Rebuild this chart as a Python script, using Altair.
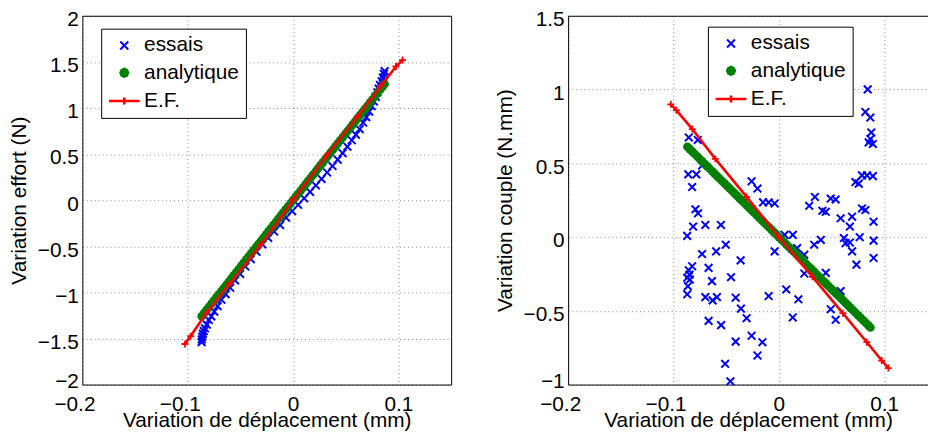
import altair as alt
import pandas as pd

FONT = "Liberation Sans"
BLUE = "#0000ff"
GREEN = "#008000"
RED = "#ff0000"

# ---- data -------------------------------------------------------------
series = ["essais", "analytique", "E.F."]
x_ticks = [-0.2, -0.1, 0, 0.1]
effort_ticks = [-2, -1.5, -1, -0.5, 0, 0.5, 1, 1.5, 2]
couple_ticks = [-1, -0.5, 0, 0.5, 1, 1.5]

# measured displacement samples, left panel (essais)
depl = [-0.0868, -0.0866, -0.0862, -0.0856, -0.0848, -0.0836, -0.0820, -0.0800, -0.0776, -0.0748,
        -0.0716, -0.0680, -0.0640, -0.0597, -0.0551, -0.0503, -0.0453, -0.0401, -0.0347, -0.0292,
        -0.0236, -0.0180, -0.0123, -0.0066, -0.0009, 0.0048, 0.0105, 0.0161, 0.0216, 0.0270,
        0.0323, 0.0374, 0.0423, 0.0470, 0.0515, 0.0557, 0.0596, 0.0632, 0.0665, 0.0695,
        0.0722, 0.0746, 0.0767, 0.0785, 0.0800, 0.0813, 0.0824, 0.0840, 0.0852, 0.0862, 0.0869]

effort_essais = [-1.54, -1.51, -1.48, -1.45, -1.42, -1.39, -1.35, -1.30, -1.26, -1.21,
                 -1.15, -1.08, -1.02, -0.95, -0.87, -0.80, -0.72, -0.64, -0.56, -0.48,
                 -0.41, -0.34, -0.27, -0.19, -0.12, -0.05, 0.02, 0.09, 0.16, 0.23,
                 0.30, 0.37, 0.44, 0.51, 0.58, 0.65, 0.71, 0.77, 0.84, 0.90,
                 0.96, 1.02, 1.07, 1.12, 1.17, 1.21, 1.25, 1.29, 1.33, 1.37, 1.40]

# displacement samples of the analytic model (both panels)
depl_ana = [-0.0868, -0.0845, -0.0821, -0.0798, -0.0774, -0.0751, -0.0727, -0.0704, -0.0680, -0.0657,
            -0.0633, -0.0610, -0.0586, -0.0563, -0.0539, -0.0516, -0.0492, -0.0469, -0.0445, -0.0422,
            -0.0398, -0.0375, -0.0351, -0.0328, -0.0304, -0.0281, -0.0257, -0.0234, -0.0210, -0.0187,
            -0.0163, -0.0140, -0.0116, -0.0093, -0.0069, -0.0046, -0.0022, 0.0001, 0.0025, 0.0048,
            0.0072, 0.0095, 0.0119, 0.0142, 0.0166, 0.0189, 0.0213, 0.0236, 0.0260, 0.0283,
            0.0307, 0.0330, 0.0354, 0.0377, 0.0401, 0.0424, 0.0448, 0.0471, 0.0495, 0.0518,
            0.0542, 0.0565, 0.0589, 0.0612, 0.0636, 0.0659, 0.0683, 0.0706, 0.0730, 0.0753,
            0.0777, 0.0800, 0.0824, 0.0847, 0.0869]

effort_ana = [-1.259, -1.225, -1.190, -1.157, -1.122, -1.089, -1.054, -1.021, -0.986, -0.953,
              -0.918, -0.885, -0.850, -0.816, -0.782, -0.748, -0.713, -0.680, -0.645, -0.612,
              -0.577, -0.544, -0.509, -0.476, -0.441, -0.407, -0.373, -0.339, -0.305, -0.271,
              -0.236, -0.203, -0.168, -0.135, -0.100, -0.067, -0.032, 0.001, 0.036, 0.070,
              0.104, 0.138, 0.173, 0.206, 0.241, 0.274, 0.309, 0.342, 0.377, 0.410,
              0.445, 0.479, 0.513, 0.547, 0.581, 0.615, 0.650, 0.683, 0.718, 0.751,
              0.786, 0.819, 0.854, 0.887, 0.922, 0.956, 0.990, 1.024, 1.059, 1.092,
              1.127, 1.160, 1.195, 1.228, 1.260]

couple_ana = [0.612, 0.596, 0.579, 0.563, 0.546, 0.529, 0.513, 0.496, 0.479, 0.463,
              0.446, 0.430, 0.413, 0.397, 0.380, 0.364, 0.347, 0.331, 0.314, 0.298,
              0.281, 0.264, 0.247, 0.231, 0.214, 0.198, 0.181, 0.165, 0.148, 0.132,
              0.115, 0.099, 0.082, 0.066, 0.049, 0.032, 0.016, -0.001, -0.018, -0.034,
              -0.051, -0.067, -0.084, -0.100, -0.117, -0.133, -0.150, -0.166, -0.183, -0.200,
              -0.216, -0.233, -0.250, -0.266, -0.283, -0.299, -0.316, -0.332, -0.349, -0.365,
              -0.382, -0.398, -0.415, -0.431, -0.448, -0.465, -0.482, -0.498, -0.515, -0.531,
              -0.548, -0.564, -0.581, -0.597, -0.613]

couple_essais_x = [-0.0855, -0.0770, -0.0860, -0.0783, -0.0823, -0.0792, -0.0767, -0.0729, -0.0814, -0.0870,
                   -0.0698, -0.0729, -0.0550, -0.0595, -0.0504, -0.0823, -0.0855, -0.0848, -0.0870, -0.0845,
                   -0.0864, -0.0870, -0.0667, -0.0635, -0.0698, -0.0629, -0.0588, -0.0667, -0.0548, -0.0454,
                   -0.0410, -0.0360, -0.0306, -0.0363, -0.0410, -0.0259, -0.0156, -0.0203, -0.0510, -0.0460,
                   -0.0259, -0.0203, -0.0150, -0.0097, -0.0040, -0.0040, -0.0097, 0.0054, 0.0132, 0.0070,
                   0.0132, 0.0185, 0.0173, 0.0241, 0.0241, 0.0288, 0.0342, 0.0413, 0.0445, 0.0335,
                   0.0398, 0.0445, 0.0492, 0.0539, 0.0586, 0.0492, 0.0539, 0.0586, 0.0617, 0.0633,
                   0.0674, 0.0674, 0.0695, 0.0695, 0.0736, 0.0767, 0.0727, 0.0758, 0.0789, 0.0836,
                   0.0892, 0.0789, 0.0821, 0.0843, 0.0821, 0.0868, 0.0877, 0.0868, 0.0892, 0.0852,
                   0.0899, 0.0899, 0.0899]
couple_essais_y = [0.675, 0.658, 0.425, 0.425, 0.339, 0.188, 0.161, 0.485, 0.071, 0.008,
                   0.082, -0.115, 0.082, -0.097, -0.052, -0.198, -0.225, -0.254, -0.276, -0.288,
                   -0.333, -0.388, -0.209, -0.299, -0.407, -0.429, -0.407, -0.568, -0.597, -0.272,
                   -0.411, -0.485, -0.550, -0.158, -0.709, -0.669, -0.713, -0.803, -0.859, -0.978,
                   0.378, 0.329, 0.235, 0.235, 0.228, -0.097, -0.400, 0.015, 0.015, -0.355,
                   -0.545, -0.422, -0.075, -0.120, -0.247, 0.212, 0.272, 0.178, 0.171, -0.052,
                   -0.019, -0.243, 0.261, 0.255, 0.127, -0.489, -0.561, -0.366, -0.007, -0.041,
                   0.071, -0.037, 0.138, -0.097, -0.187, -0.001, 0.373, 0.362, 0.418, 0.418,
                   0.413, 0.194, 0.183, 1.001, 0.848, 0.810, 0.709, 0.665, 0.631, 0.642,
                   0.104, -0.024, -0.142]

ef_x = [-0.1026, -0.0973, -0.0822, -0.0603, -0.0306, 0.0, 0.0319, 0.0607, 0.0835, 0.0976, 0.1039]
ef_effort = [-1.56, -1.476, -1.22, -0.906, -0.484, 0.0, 0.484, 0.90, 1.24, 1.45, 1.52]
ef_couple = [0.90, 0.86, 0.732, 0.53, 0.272, 0.0, -0.27, -0.516, -0.713, -0.837, -0.888]

# ---- styling ----------------------------------------------------------
XPATH = "M-1,-1L1,1M-1,1L1,-1"
PLUS = "M-1,0L1,0M0,-1L0,1"
LEG_X = "M-0.8,-0.8L0.8,0.8M-0.8,0.8L0.8,-0.8"
# small octagon drawn with a thick stroke -> solid round dot
LEG_DOT = "M0.5,0L0.35,0.35L0,0.5L-0.35,0.35L-0.5,0L-0.35,-0.35L0,-0.5L0.35,-0.35Z"
LEG_EF = "M-3.1,0L3.1,0M0,-0.7L0,0.7M-0.7,0L0.7,0"

XLABEL_SHIFT = {"condition": {"test": "datum.value < 0", "value": -8}, "value": 0}

PW = 372
PH = 372


def panel(ess_x, ess_y, ana_y, ef_y, xmax, width, ydom, yticks, ytitle, lx, ly, box_right):
    xs = alt.Scale(domain=[-0.2, xmax], nice=False, zero=False)
    ys = alt.Scale(domain=ydom, nice=False, zero=False)
    ess = pd.DataFrame({"x": ess_x, "y": ess_y})
    ana = pd.DataFrame({"x": depl_ana, "y": ana_y})
    ef = pd.DataFrame({"x": ef_x, "y": ef_y})
    leg = pd.DataFrame({"serie": series})

    ylabel_shift = {"condition": {"test": f"datum.value == {ydom[0]}", "value": -14}, "value": -7}

    main_x = alt.Axis(values=x_ticks, format="~g", title="Variation de déplacement (mm)",
                      grid=True, orient="bottom", labelOffset=XLABEL_SHIFT, labelFlush=False,
                      titleBaseline="alphabetic", titleY=42, labelPadding=9)
    main_y = alt.Axis(values=yticks, format="~g", title=ytitle, grid=True, orient="left",
                      titleBaseline="alphabetic", titleX=-57, labelPadding=4,
                      labelBaseline="top", labelOffset=ylabel_shift, labelFlush=False)
    frame_x = alt.Axis(orient="top", labels=False, ticks=False, grid=False, title=None)
    frame_y = (alt.Axis(orient="right", labels=False, ticks=False, grid=False, title=None)
               if box_right else None)

    frame = alt.Chart(ef).mark_point(opacity=0).encode(
        x=alt.X("x:Q", scale=xs, axis=frame_x), y=alt.Y("y:Q", scale=ys, axis=frame_y))
    l_ess = alt.Chart(ess).mark_point(shape=XPATH, filled=False, color=BLUE, strokeWidth=2,
                                      size=60, opacity=1).encode(
        x=alt.X("x:Q", scale=xs, axis=main_x), y=alt.Y("y:Q", scale=ys, axis=main_y))
    l_ana = alt.Chart(ana).mark_circle(color=GREEN, size=76, opacity=1).encode(
        x=alt.X("x:Q", scale=xs, axis=None), y=alt.Y("y:Q", scale=ys, axis=None))
    l_efl = alt.Chart(ef).mark_line(color=RED, strokeWidth=2.6).encode(
        x=alt.X("x:Q", scale=xs, axis=None), y=alt.Y("y:Q", scale=ys, axis=None))
    l_efp = alt.Chart(ef).mark_point(shape=PLUS, filled=False, color=RED, strokeWidth=1.8,
                                     size=49, opacity=1).encode(
        x=alt.X("x:Q", scale=xs, axis=None), y=alt.Y("y:Q", scale=ys, axis=None))

    lg = alt.Legend(title=None, orient="none", legendX=lx, legendY=ly)
    dom = series
    l_leg = alt.Chart(leg).mark_point(opacity=0, filled=False).encode(
        shape=alt.Shape("serie:N", scale=alt.Scale(domain=dom, range=[LEG_X, LEG_DOT, LEG_EF]), legend=lg),
        stroke=alt.Stroke("serie:N", scale=alt.Scale(domain=dom, range=[BLUE, GREEN, RED]), legend=lg),
        strokeWidth=alt.StrokeWidth("serie:N", scale=alt.Scale(type="ordinal", domain=dom,
                                                               range=[2, 5, 2.6]), legend=lg),
    )
    return alt.layer(frame, l_ess, l_ana, l_efl, l_efp, l_leg).resolve_axis(
        x="independent", y="independent").properties(width=width, height=PH)


left = panel(depl, effort_essais, effort_ana, ef_effort, 0.15, PW, [-2, 2], effort_ticks,
             "Variation effort (N)", 19, 13, True)
right = panel(couple_essais_x, couple_essais_y, couple_ana, ef_couple, -0.2 + 0.35 * 363 / 372,
              363, [-1, 1.5], couple_ticks, "Variation couple (N.mm)", 141, 11, False)

chart = alt.hconcat(left, right, spacing=44).resolve_scale(
    shape="independent", stroke="independent", strokeWidth="independent"
).resolve_legend(
    shape="independent", stroke="independent", strokeWidth="independent"
).properties(
    padding={"left": 1, "top": -1, "right": 0, "bottom": 0}
).configure_view(stroke=None).configure_axis(
    labelFont=FONT, labelFontSize=21, labelColor="black",
    titleFont=FONT, titleFontSize=21, titleFontWeight="normal", titleColor="black",
    domainColor="black", domainWidth=1, ticks=False,
    gridColor="#8c8c8c", gridDash=[1, 3], gridWidth=1, gridOpacity=1,
).configure_legend(
    labelFont=FONT, labelFontSize=21, labelColor="black",
    strokeColor="black", fillColor="white", padding=6.5, rowPadding=4.5,
    symbolSize=100, symbolOffset=6.3, labelOffset=9.5, cornerRadius=0,
)

chart.save("out.html", embed_options={"renderer": "svg", "actions": False})
